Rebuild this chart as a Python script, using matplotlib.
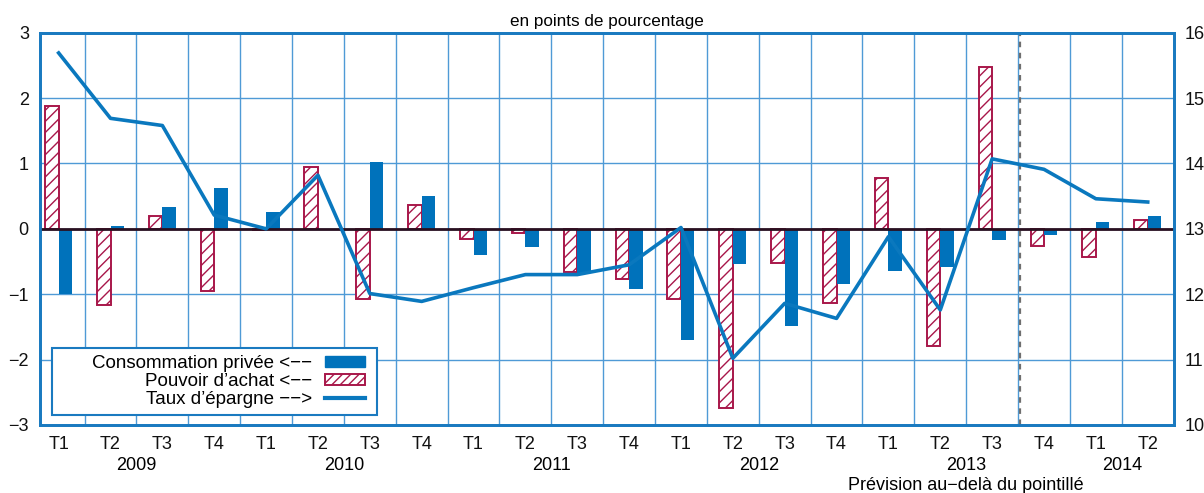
import matplotlib
matplotlib.use("Agg")
import matplotlib.pyplot as plt
import numpy as np
from matplotlib.patches import Patch, Rectangle
from matplotlib.lines import Line2D

plt.rcParams['font.family'] = ['Liberation Sans', 'DejaVu Sans']
plt.rcParams['hatch.linewidth'] = 1.0

# quarters 2009 T1 .. 2014 T2
quarters = ["T1", "T2", "T3", "T4"] * 5 + ["T1", "T2"]
years = ["2009", "2010", "2011", "2012", "2013", "2014"]
year_pos = [1.5, 5.5, 9.5, 13.5, 17.5, 20.5]

# contributions in percentage points (left axis)
pouvoir = [1.88, -1.17, 0.19, -0.95, -0.02, 0.95, -1.07, 0.37, -0.15, -0.06, -0.66,
           -0.76, -1.08, -2.74, -0.53, -1.13, 0.77, -1.79, 2.48, -0.26, -0.43, 0.14]
conso = [-1.00, 0.04, 0.33, 0.62, 0.25, 0.00, 1.02, 0.50, -0.40, -0.28, -0.68,
         -0.92, -1.70, -0.54, -1.48, -0.85, -0.65, -0.58, -0.17, -0.09, 0.10, 0.20]
# savings rate in % (right axis)
epargne = [15.69, 14.69, 14.58, 13.21, 13.00, 13.82, 12.01, 11.89, 12.10, 12.30, 12.30,
           12.45, 13.02, 11.02, 11.86, 11.63, 12.88, 11.76, 14.07, 13.91, 13.46, 13.41]
forecast_start = 18.5

blue = "#0072bb"
crimson = "#a8174a"
grid_blue = "#4f9ad6"
spine_blue = "#1a7ac0"

fig = plt.figure(figsize=(12.04, 4.93), dpi=100)
ax = fig.add_axes([0.0332, 0.138, 0.9416, 0.7957])
ax2 = ax.twinx()

x = np.arange(len(quarters))
w = 0.26
ax.bar(x - w / 2, pouvoir, w, facecolor="white", edgecolor=crimson, hatch="///", linewidth=1.4, zorder=3)
ax.bar(x + w / 2, conso, w, color=blue, linewidth=0, zorder=3)
ax.axhline(0, color="#2a1020", linewidth=2, zorder=4)
ax.axvline(forecast_start + 0.04, color="#6f6f6f", linewidth=1.6, linestyle=(0, (2.5, 2.5)), zorder=2)

ax2.plot(x, epargne, color="#0a78be", linewidth=2.6, zorder=5)

ax.set_xlim(-0.36, 21.5)
ax.set_ylim(-3, 3)
ax2.set_ylim(10, 16)
ax.set_yticks(range(-3, 4))
ax.set_yticklabels([str(v).replace("-", "\u2212") for v in range(-3, 4)])
ax2.set_yticks(range(10, 17))
ax.set_xticks(x)
ax.set_xticklabels(quarters)
ax.set_xticks(np.arange(0.5, 21, 1), minor=True)

ax.grid(True, which="minor", axis="x", color=grid_blue, linewidth=1.0, zorder=0)
ax.grid(True, which="major", axis="y", color=grid_blue, linewidth=1.0, zorder=0)
ax.set_axisbelow(True)
ax.tick_params(axis="both", which="both", length=0, labelsize=13, colors="#111111")
ax.tick_params(axis="x", pad=8)
ax.tick_params(axis="y", pad=8)
ax2.tick_params(axis="y", length=0, labelsize=13, pad=8, colors="#111111")

for a in (ax, ax2):
    for s in a.spines.values():
        s.set_color(spine_blue)
        s.set_linewidth(2)

for yr, p in zip(years, year_pos):
    ax.text(p, -0.104, yr, transform=ax.get_xaxis_transform(), ha="center", va="center", fontsize=13)
ax.text(17.5, -0.155, "Prévision au\u2212delà du pointillé", transform=ax.get_xaxis_transform(),
        ha="center", va="center", fontsize=13)
ax.text(0.5, 1.028, "en points de pourcentage", transform=ax.transAxes, ha="center", va="center",
        fontsize=12.3)

# legend frame drawn separately so the labels can sit right-aligned against the keys
ax2.add_patch(Rectangle((0.0103, 0.0255), 0.2867, 0.17, transform=ax.transAxes, facecolor="white",
                        edgecolor=spine_blue, linewidth=1.5, zorder=6))
handles = [Patch(facecolor=blue, edgecolor=blue),
           Patch(facecolor="white", edgecolor=crimson, hatch="////", linewidth=1.4),
           Line2D([0], [0], color="#0a78be", linewidth=3)]
labels = ["Consommation privée <\u2212\u2212", "Pouvoir d\u2019achat <\u2212\u2212", "Taux d\u2019épargne \u2212\u2212>"]
leg = ax2.legend(handles, labels, loc="center right", bbox_to_anchor=(0.2867, 0.110),
                 bbox_transform=ax.transAxes, markerfirst=False, fontsize=13.5, handlelength=2.15,
                 handleheight=0.55, labelspacing=0.05, borderaxespad=0, borderpad=0, handletextpad=0.65,
                 frameon=False)
leg.set_zorder(7)
for col in leg._legend_handle_box.get_children():
    col.align = "right"

fig.savefig("out.png", dpi=100)
plt.close(fig)
